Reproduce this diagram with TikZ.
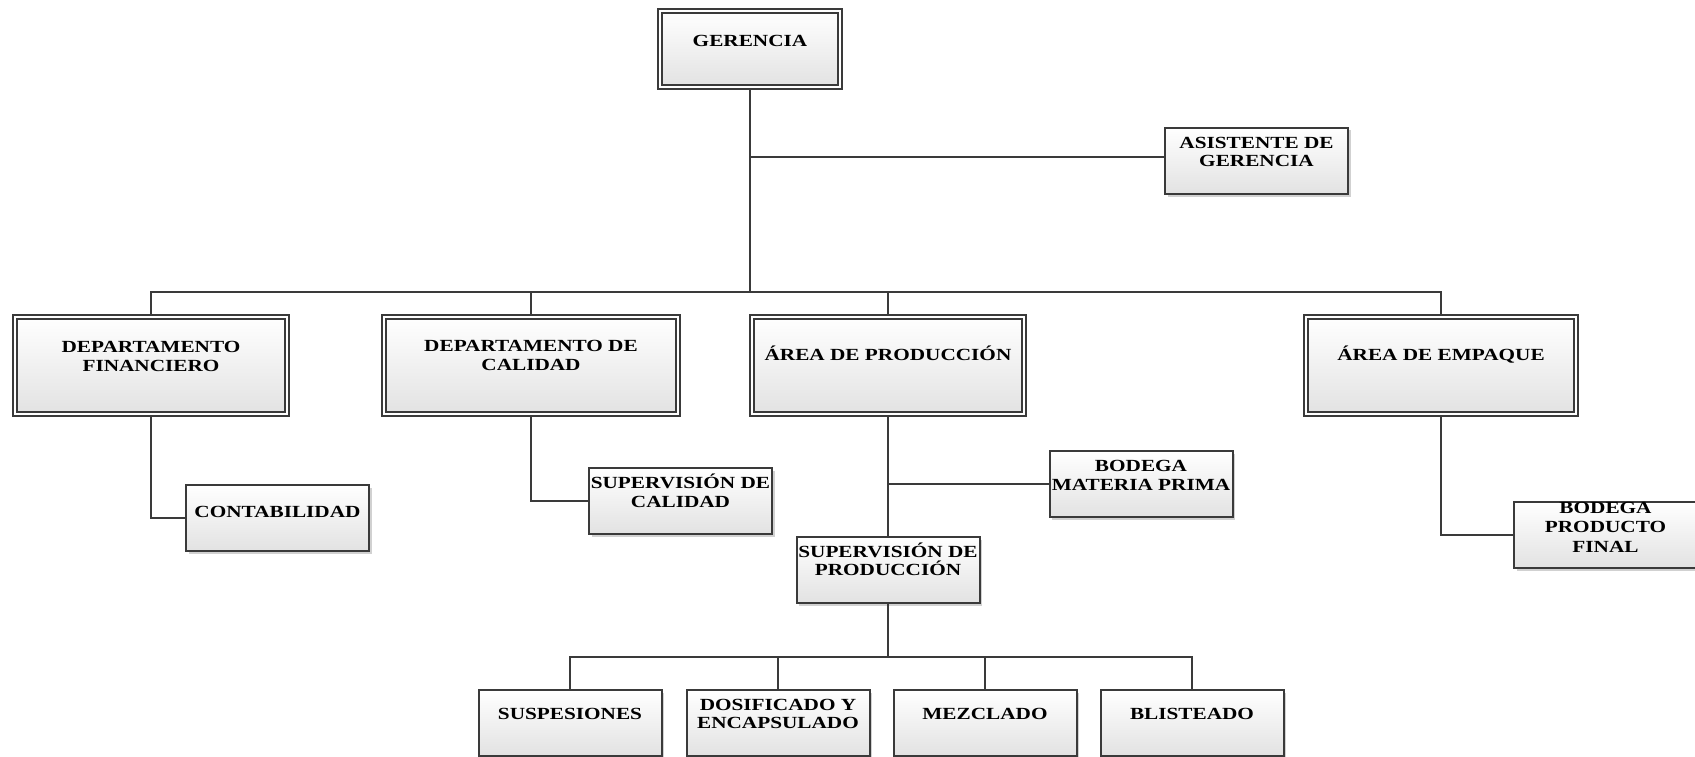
\documentclass[tikz,border=0pt]{standalone}
\usepackage{fontspec}
\setmainfont{Liberation Serif}[FakeStretch=1.25]
\usetikzlibrary{shadows}
\definecolor{linec}{HTML}{3A3A3A}
\definecolor{fillb}{HTML}{E2E2E2}
\begin{document}
\begin{tikzpicture}[x=1pt,y=-1pt,
  conn/.style={draw=linec,line width=2pt,line join=miter},
  sbox/.style={draw=linec,line width=2pt,top color=white,bottom color=fillb,
     drop shadow={shadow xshift=2.5pt,shadow yshift=-2.5pt,fill=black!45,opacity=0.4},
     minimum width=183pt,minimum height=66pt,inner sep=0pt,outer sep=1pt},
  bbox/.style={sbox,line width=1.6pt,double=white,double distance=2.4pt,outer sep=2.8pt},
  lbl/.style={font=\bfseries\fontsize{17}{18.5}\selectfont,align=center,inner sep=0pt}
]
\useasboundingbox[fill=white] (0,0) rectangle (1695,757);

% boxes
\node[bbox,minimum width=180.5pt,minimum height=76.5pt] (g) at (750,49) {};
\node[sbox] (asis) at (1256.5,161) {};
\node[bbox,minimum width=271.5pt,minimum height=97.5pt] (df) at (151,365.5) {};
\node[bbox,minimum width=293.5pt,minimum height=97.5pt] (dc) at (531,365.5) {};
\node[bbox,minimum width=272.5pt,minimum height=97.5pt] (ap) at (888,365.5) {};
\node[bbox,minimum width=269.5pt,minimum height=97.5pt] (ae) at (1441,365.5) {};
\node[sbox] (cont) at (277.5,518) {};
\node[sbox] (sc) at (680.5,501) {};
\node[sbox] (bmp) at (1141,484) {};
\node[sbox] (sp) at (888,570) {};
\node[sbox] (bpf) at (1605.5,535) {};
\node[sbox] (susp) at (570,723) {};
\node[sbox] (dos) at (778,723) {};
\node[sbox] (mez) at (985,723) {};
\node[sbox] (bli) at (1192,723) {};

% texts
\node[lbl] (gT) at ([yshift=2pt]g.center) {\smash{GERENCIA}};
\node[lbl] (asisT) at ([yshift=3.4pt]asis.center) {\smash{ASISTENTE DE}\\\smash{GERENCIA}};
\node[lbl] (dfT) at ([yshift=3.4pt]df.center) {\smash{DEPARTAMENTO}\\\smash{FINANCIERO}};
\node[lbl] (dcT) at ([yshift=4.4pt]dc.center) {\smash{DEPARTAMENTO DE}\\\smash{CALIDAD}};
\node[lbl] (apT) at ([yshift=4.6pt]ap.center) {\smash{ÁREA DE PRODUCCIÓN}};
\node[lbl] (aeT) at ([yshift=4.6pt]ae.center) {\smash{ÁREA DE EMPAQUE}};
\node[lbl] (contT) at ([yshift=0.4pt]cont.center) {\smash{CONTABILIDAD}};
\node[lbl] (scT) at ([yshift=2.9pt]sc.center) {\smash{SUPERVISIÓN DE}\\\smash{CALIDAD}};
\node[lbl] (bmpT) at ([yshift=2.9pt]bmp.center) {\smash{BODEGA}\\\smash{MATERIA PRIMA}};
\node[lbl] (spT) at ([yshift=3.4pt]sp.center) {\smash{SUPERVISIÓN DE}\\\smash{PRODUCCIÓN}};
\node[lbl,font=\bfseries\fontsize{17}{19.5}\selectfont] (bpfT) at ([yshift=2.4pt]bpf.center) {\smash{BODEGA}\\\smash{PRODUCTO}\\\smash{FINAL}};
\node[lbl] (suspT) at ([yshift=3.4pt]susp.center) {\smash{SUSPESIONES}};
\node[lbl] (dosT) at ([yshift=3.4pt]dos.center) {\smash{DOSIFICADO Y}\\\smash{ENCAPSULADO}};
\node[lbl] (mezT) at ([yshift=3.4pt]mez.center) {\smash{MEZCLADO}};
\node[lbl] (bliT) at ([yshift=3.4pt]bli.center) {\smash{BLISTEADO}};

% connectors
\coordinate (busA) at (0,292);
\coordinate (busB) at (0,657);
\coordinate (asisY) at (0,157);
\draw[conn] (g.south) -- (g.south |- busA);
\draw[conn] (g.south |- asisY) -- (asis.west |- asisY);
\draw[conn] (df.north) -- (df.north |- busA) -- (ae.north |- busA) -- (ae.north);
\draw[conn] (dc.north |- busA) -- (dc.north);
\draw[conn] (ap.north |- busA) -- (ap.north);
\draw[conn] (df.south) |- (cont.west);
\draw[conn] (dc.south) |- (sc.west);
\draw[conn] (ap.south) -- (sp.north);
\draw[conn] (ap.south |- bmp.west) -- (bmp.west);
\draw[conn] (sp.south) -- (sp.south |- busB);
\draw[conn] (susp.north) -- (susp.north |- busB) -- (bli.north |- busB) -- (bli.north);
\draw[conn] (dos.north |- busB) -- (dos.north);
\draw[conn] (mez.north |- busB) -- (mez.north);
\draw[conn] (ae.south) |- (bpf.west);
\end{tikzpicture}
\end{document}
